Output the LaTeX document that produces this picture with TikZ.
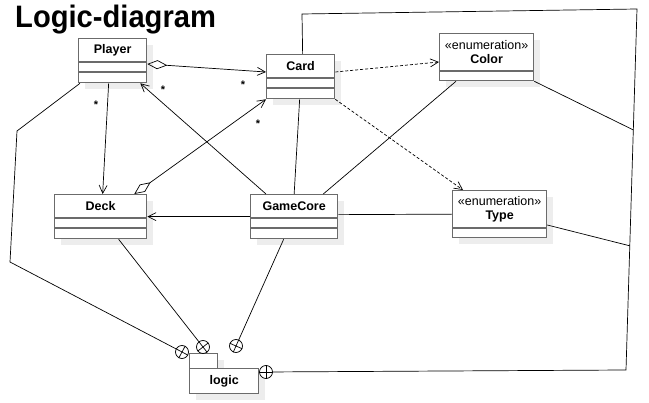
\documentclass[tikz,border=0pt]{standalone}
\usepackage{fontspec}
\setmainfont{Liberation Sans}
\newfontfamily\titlefont[FakeStretch=0.94]{Liberation Sans}
\usepackage{tikz}
\usetikzlibrary{arrows.meta,calc,positioning,shadows}

\begin{document}
\begin{tikzpicture}[x=1pt, y=-1pt,
  shade/.style={fill=black!7, draw=none},
  cls/.style={draw=black!58, line width=1.3pt, fill=white, anchor=north west, inner sep=0pt},
  sep/.style={draw=black!58, line width=1.3pt},
  cname/.style={font=\fontsize{12.5}{14}\selectfont\bfseries, align=center},
  nest/.style={circle, draw, line width=0.7pt, fill=white, minimum size=13pt, inner sep=0pt},
  assoc/.style={draw, line width=0.7pt},
  navi/.style={assoc, -{Straight Barb[length=8pt,width=8pt]}},
  aggr/.style={assoc, {Diamond[open,length=20pt,width=9pt]}-{Straight Barb[length=8pt,width=8pt]}},
  dep/.style={assoc, dash pattern=on 3pt off 2pt, -{Straight Barb[length=8pt,width=8pt]}},
  mult/.style={font=\fontsize{11}{11}\selectfont\bfseries, inner sep=0pt}]
\useasboundingbox (0,0) rectangle (649,403);

\node[anchor=base west, inner sep=0pt, font=\titlefont\fontsize{31}{31}\selectfont\bfseries]
  (title) at (15,28) {Logic-diagram};

% shadows
\foreach \x/\y/\w/\h in {78/38/68/44, 266/54/68/44, 54/194/92/44, 250/194/87/44,
                         439/33/94/47, 452/190/94/47, 189/353/28/15, 189/368/69/25}
  \fill[shade] (\x+7,\y+7) rectangle ++(\w,\h);

% classes
\foreach \n/\x/\y/\w in {player/78/38/68, card/266/54/68, deck/54/194/92, core/250/194/87} {
  \node[cls, minimum width=\w, minimum height=44] (\n) at (\x,\y) {};
  \draw[sep] ($(\n.north west)+(0,24)$) -- ($(\n.north east)+(0,24)$)
             ($(\n.north west)+(0,34)$) -- ($(\n.north east)+(0,34)$);
}
\node[cname] (playerlbl) at ($(player.north)+(0,12)$) {Player};
\node[cname] (cardlbl)   at ($(card.north)+(0,12)$)   {Card};
\node[cname] (decklbl)   at ($(deck.north)+(0,12)$)   {Deck};
\node[cname] (corelbl)   at ($(core.north)+(0,12)$)   {GameCore};

% enumerations
\foreach \n/\x/\y in {color/439/33, type/452/190} {
  \node[cls, minimum width=94, minimum height=47] (\n) at (\x,\y) {};
  \draw[sep] ($(\n.north west)+(0,38)$) -- ($(\n.north east)+(0,38)$);
}
\node[cname] (colorlbl) at ($(color.north)+(0,19)$) {{\mdseries «enumeration»}\\Color};
\node[cname] (typelbl)  at ($(type.north)+(0,19)$)  {{\mdseries «enumeration»}\\Type};

% package
\node[cls, minimum width=28, minimum height=15] (logictab) at (189,353) {};
\node[cls, minimum width=69, minimum height=25, font=\fontsize{12.5}{14}\selectfont\bfseries]
  (logic) at (189,368) {logic};

% nesting marks
\foreach \n/\x/\y/\a [evaluate=\a as \b using int(\a+90), evaluate=\a as \c using int(\a+180),
                      evaluate=\a as \d using int(\a+270)]
    in {nestplayer/182/352/152, nestdeck/203/347/128, nestcore/236/346/66, nestcard/266/372/0} {
  \node[nest] (\n) at (\x,\y) {};
  \draw[line width=0.7pt] (\n.\a) -- (\n.\c) (\n.\b) -- (\n.\d);
}

\coordinate (bendtop) at (17,131);
\coordinate (bendlow) at (10,262);
\coordinate (cardup) at (302,14);
\coordinate (frametop) at (637,9);
\coordinate (framebot) at (626,370);
\coordinate (colorhook) at ($(frametop)!0.335!(framebot)$);
\coordinate (typehook) at ($(frametop)!0.656!(framebot)$);

% associations
\draw[aggr] ($(player.north east)+(0,26)$) -- ($(card.north west)+(0,18)$);
\draw[aggr] ($(deck.north east)+(-13,0)$) -- (card.south west);
\draw[navi] ($(core.north west)+(16,0)$) -- ($(player.south east)+(-7,0)$);
\draw[navi] ($(player.south)+(-4,0)$) -- ($(deck.north)+(2,0)$);
\draw[navi] (core.west) -- (deck.east);
\draw[assoc] ($(core.east)+(0,-2)$) -- (type.west);
\draw[assoc] ($(card.south)+(-1,0)$) -- (core.north);
\draw[assoc] ($(color.south west)+(17,0)$) -- ($(core.north east)+(-15,0)$);
\draw[dep] ($(card.north east)+(0,18)$) -- ($(color.north west)+(0,29)$);
\draw[dep] (card.south east) -- ($(type.north west)+(11,0)$);

% containment
\draw[assoc] ($(player.south west)+(2,0)$) -- (bendtop) -- (bendlow) -- (nestplayer);
\draw[assoc] ($(deck.south)+(18,0)$) -- (nestdeck);
\draw[assoc] ($(core.south)+(-10.5,0)$) -- (nestcore);
\draw[assoc] ($(card.north)+(2,0)$) -- (cardup) -- (frametop) -- (framebot) -- (nestcard);
\draw[assoc] (color.south east) -- (colorhook);
\draw[assoc] ($(type.north east)+(0,35)$) -- (typehook);

% multiplicities
\node[mult] (mcard)   at (243,85)  {*};
\node[mult] (mplayer) at (163,90)  {*};
\node[mult] (mdeck)   at (96,105)  {*};
\node[mult] (mcardlo) at (258,124) {*};
\end{tikzpicture}
\end{document}
